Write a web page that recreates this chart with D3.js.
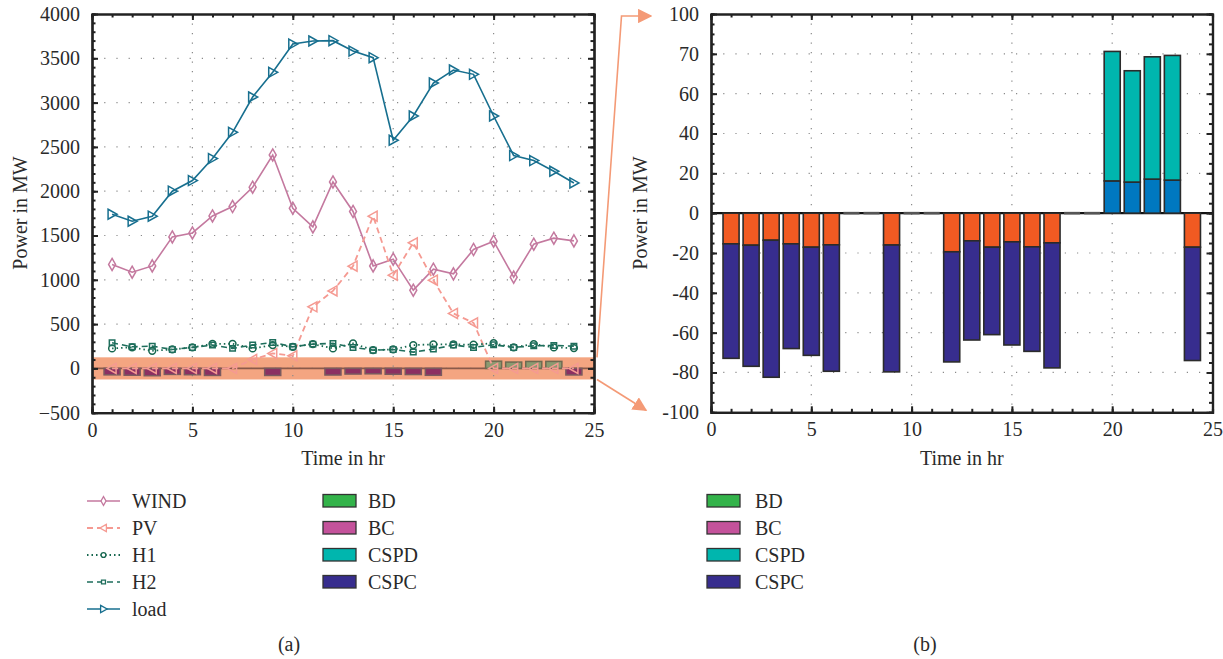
<!DOCTYPE html>
<html lang="en">
<head>
<meta charset="UTF-8">
<title>Power in MW</title>
<script src="https://cdn.jsdelivr.net/npm/d3@7"></script>
<style>
  body { margin: 0; background: #fff; }
  text { font-family: "Liberation Serif", "DejaVu Serif", serif; fill: #2a2a2a; }
</style>
</head>
<body>
<script>
// hours
var hours = [1, 2, 3, 4, 5, 6, 7, 8, 9, 10, 11, 12, 13, 14, 15, 16, 17, 18, 19, 20, 21, 22, 23, 24];

// (a) line series, MW
var wind = [1173, 1086, 1157, 1484, 1529, 1721, 1827, 2045, 2409, 1808, 1597, 2104, 1771, 1157, 1233, 883, 1120, 1067, 1342, 1436, 1030, 1402, 1470, 1439];
var pv = [0, 0, 0, 0, 0, 0, 0, 101, 169, 142, 695, 875, 1154, 1718, 1052, 1417, 996, 620, 514, 0, 0, 0, 0, 0];
var h1 = [226, 237, 199, 214, 237, 277, 277, 226, 263, 244, 274, 226, 282, 206, 214, 263, 271, 271, 267, 285, 237, 274, 237, 229];
var h2 = [289, 244, 251, 214, 237, 263, 226, 263, 293, 244, 274, 282, 237, 206, 214, 184, 218, 263, 237, 267, 237, 255, 259, 251];
var load = [1740, 1661, 1718, 2000, 2120, 2368, 2665, 3063, 3342, 3661, 3695, 3699, 3582, 3507, 2575, 2849, 3221, 3368, 3319, 2849, 2402, 2346, 2225, 2093];

// (b) stacked bar segments
var orangeSeg = [-15.4, -16.1, -13.6, -15.4, -17.1, -15.9, 0, 0, -16.0, 0, 0, -19.4, -13.9, -17.1, -14.4, -16.9, -14.9, 0, 0, 0, 0, 0, 0, -17.1];
var cspcSeg = [-57.5, -60.8, -68.8, -52.6, -54.3, -63.5, 0, 0, -63.7, 0, 0, -55.3, -49.8, -43.9, -51.8, -52.5, -62.8, 0, 0, 0, 0, 0, 0, -56.9];
var blueSeg = [0, 0, 0, 0, 0, 0, 0, 0, 0, 0, 0, 0, 0, 0, 0, 0, 0, 0, 0, 16.2, 15.6, 17.1, 16.6, 0];
var cspdSeg = [0, 0, 0, 0, 0, 0, 0, 0, 0, 0, 0, 0, 0, 0, 0, 0, 0, 0, 0, 65.0, 55.9, 61.4, 62.6, 0];

// ticks
var xTicks = [0, 5, 10, 15, 20, 25];
var yTicksA = [-500, 0, 500, 1000, 1500, 2000, 2500, 3000, 3500, 4000];
var yTicksB = [-100, -80, -60, -40, -20, 0, 20, 40, 60, 80, 100];
var yLabelsB = ["-100", "-80", "-60", "-40", "-20", "0", "20", "40", "60", "70", "100"];
var bandLimit = 125;

var width = 1223, height = 659;
var svg = d3.select("body").append("svg")
    .attr("width", width)
    .attr("height", height);

var xA = d3.scaleLinear().domain([0, 25]).range([92, 594]);
var yA = d3.scaleLinear().domain([-500, 4000]).range([412.7, 14]);
var xB = d3.scaleLinear().domain([0, 25]).range([711, 1212.5]);
var yB = d3.scaleLinear().domain([-100, 100]).range([412.3, 14]);

var fs = "20px";

function grid(g, x, y, yt) {
    var x0 = x.range()[0], x1 = x.range()[1], y0 = y.range()[0], y1 = y.range()[1];
    g.selectAll(".gx").data(xTicks.slice(1, -1)).enter().append("line")
        .attr("x1", function (d) { return x(d); }).attr("x2", function (d) { return x(d); })
        .attr("y1", y1).attr("y2", y0)
        .attr("stroke", "#8a8a8a").attr("stroke-width", 1.2).attr("stroke-dasharray", "1.2,8.3");
    g.selectAll(".gy").data(yt.slice(1, -1)).enter().append("line")
        .attr("y1", function (d) { return y(d); }).attr("y2", function (d) { return y(d); })
        .attr("x1", x0).attr("x2", x1)
        .attr("stroke", "#8a8a8a").attr("stroke-width", 1.2).attr("stroke-dasharray", "1.2,11");
}

function frame(g, x, y, yt, yMinorStep, yFmt) {
    var x0 = x.range()[0], x1 = x.range()[1], y0 = y.range()[0], y1 = y.range()[1];
    var yMinor = d3.range(y.domain()[0], y.domain()[1] + 0.001, yMinorStep);
    var xMinor = d3.range(0, 26, 1);

    function style(ax) {
        ax.select(".domain").attr("stroke", "#222").attr("stroke-width", 2.2);
        ax.selectAll(".tick line").attr("stroke", "#222").attr("stroke-width", 2);
        ax.selectAll("text").style("font-size", fs).style("font-family", "Liberation Serif").attr("fill", "#2a2a2a");
    }

    // minor ticks
    g.append("g").attr("transform", "translate(0," + y0 + ")")
        .call(d3.axisBottom(x).tickValues(xMinor).tickSize(-3.5).tickFormat("")).call(style);
    g.append("g").attr("transform", "translate(0," + y1 + ")")
        .call(d3.axisTop(x).tickValues(xMinor).tickSize(-3.5).tickFormat("")).call(style);
    g.append("g").attr("transform", "translate(" + x0 + ",0)")
        .call(d3.axisLeft(y).tickValues(yMinor).tickSize(-3.5).tickFormat("")).call(style);
    g.append("g").attr("transform", "translate(" + x1 + ",0)")
        .call(d3.axisRight(y).tickValues(yMinor).tickSize(-3.5).tickFormat("")).call(style);

    // major ticks
    g.append("g").attr("transform", "translate(0," + y0 + ")")
        .call(d3.axisBottom(x).tickValues(xTicks).tickSize(-6).tickSizeOuter(0).tickPadding(10)).call(style);
    g.append("g").attr("transform", "translate(0," + y1 + ")")
        .call(d3.axisTop(x).tickValues(xTicks).tickSize(-6).tickSizeOuter(0).tickFormat("")).call(style);
    g.append("g").attr("transform", "translate(" + x0 + ",0)")
        .call(d3.axisLeft(y).tickValues(yt).tickSize(-6).tickSizeOuter(0).tickPadding(12).tickFormat(yFmt)).call(style);
    g.append("g").attr("transform", "translate(" + x1 + ",0)")
        .call(d3.axisRight(y).tickValues(yt).tickSize(-6).tickSizeOuter(0).tickFormat("")).call(style);
}

function titles(g, x, y, tx) {
    g.append("text").attr("x", (x.range()[0] + x.range()[1]) / 2).attr("y", 465)
        .attr("text-anchor", "middle").style("font-size", fs).text("Time in hr");
    g.append("text").attr("transform", "translate(" + tx + "," + 213 + ") rotate(-90)")
        .attr("text-anchor", "middle").style("font-size", fs).text("Power in MW");
}

// ---------- (a) ----------
var gA = svg.append("g");

gA.append("rect")
    .attr("x", xA(0)).attr("width", xA(25) - xA(0))
    .attr("y", yA(bandLimit)).attr("height", yA(-bandLimit) - yA(bandLimit))
    .attr("fill", "#f4a581");

grid(gA, xA, yA, yTicksA);

gA.append("line")
    .attr("x1", xA(0)).attr("x2", xA(25))
    .attr("y1", yA(0)).attr("y2", yA(0))
    .attr("stroke", "#8a5a4a").attr("stroke-width", 1.6);

var totals = hours.map(function (h, i) {
    return { h: h, v: orangeSeg[i] + cspcSeg[i] + blueSeg[i] + cspdSeg[i] };
});

gA.selectAll(".sbar").data(totals.filter(function (d) { return d.v !== 0; })).enter().append("rect")
    .attr("x", function (d) { return xA(d.h - 0.4); })
    .attr("width", xA(0.8) - xA(0))
    .attr("y", function (d) { return yA(Math.max(0, d.v)); })
    .attr("height", function (d) { return Math.abs(yA(d.v) - yA(0)); })
    .attr("fill", function (d) { return d.v < 0 ? "#8c2f62" : "#8b9a70"; })
    .attr("stroke", function (d) { return d.v < 0 ? "#7a5a5f" : "#6e6b52"; })
    .attr("stroke-width", 1.5);

var triR = "M-4,-5 L5,0 L-4,5 Z";
var triL = "M4,-5 L-5,0 L4,5 Z";

var lineSeries = [
    { name: "load", values: load, color: "#176f8f", dash: null, width: 1.6, marker: triR },
    { name: "WIND", values: wind, color: "#c4799f", dash: null, width: 1.6, marker: d3.symbol().type(d3.symbolDiamond).size(42)() },
    { name: "PV", values: pv, color: "#f59a92", dash: "6,4", width: 1.8, marker: triL },
    { name: "H1", values: h1, color: "#16674f", dash: "1.5,3", width: 1.8, marker: d3.symbol().type(d3.symbolCircle).size(36)() },
    { name: "H2", values: h2, color: "#1e6e5c", dash: "6,4", width: 1.6, marker: d3.symbol().type(d3.symbolSquare).size(30)() }
];

var line = d3.line()
    .x(function (d) { return xA(d[0]); })
    .y(function (d) { return yA(d[1]); });

lineSeries.forEach(function (s) {
    var pts = hours.map(function (h, i) { return [h, s.values[i]]; });
    gA.append("path").datum(pts)
        .attr("d", line)
        .attr("fill", "none")
        .attr("stroke", s.color)
        .attr("stroke-width", s.width)
        .attr("stroke-dasharray", s.dash);
    gA.selectAll(".m" + s.name).data(pts).enter().append("path")
        .attr("d", s.marker)
        .attr("transform", function (d) { return "translate(" + xA(d[0]) + "," + yA(d[1]) + ")"; })
        .attr("fill", "none")
        .attr("stroke", s.color)
        .attr("stroke-width", 1.5);
});

frame(gA, xA, yA, yTicksA, 100, d3.format("d"));
titles(gA, xA, yA, 27);

// ---------- (b) ----------
var gB = svg.append("g");
grid(gB, xB, yB, yTicksB);

var table = hours.map(function (h, i) {
    return { h: h, orange: orangeSeg[i], cspc: cspcSeg[i], blue: blueSeg[i], cspd: cspdSeg[i] };
});
var keys = ["orange", "cspc", "blue", "cspd"];
var fills = { orange: "#f15a22", cspc: "#372d8e", blue: "#0078c0", cspd: "#00b6ae" };

var stack = d3.stack().keys(keys).offset(d3.stackOffsetDiverging);
var layers = stack(table);

gB.append("line")
    .attr("x1", xB(0)).attr("x2", xB(25))
    .attr("y1", yB(0)).attr("y2", yB(0))
    .attr("stroke", "#111").attr("stroke-width", 2.4);

layers.forEach(function (layer) {
    gB.selectAll(".b" + layer.key).data(layer.filter(function (d) { return d[1] !== d[0]; })).enter().append("rect")
        .attr("x", function (d) { return xB(d.data.h - 0.4); })
        .attr("width", xB(0.8) - xB(0))
        .attr("y", function (d) { return yB(Math.max(d[0], d[1])); })
        .attr("height", function (d) { return Math.abs(yB(d[0]) - yB(d[1])); })
        .attr("fill", fills[layer.key])
        .attr("stroke", "#2b2b2b")
        .attr("stroke-width", 1.6);
});

// empty hours: flat dashes on the zero line
gB.selectAll(".zero").data(table.filter(function (d) { return d.orange + d.cspc + d.blue + d.cspd === 0; })).enter().append("line")
    .attr("x1", function (d) { return xB(d.h - 0.4); })
    .attr("x2", function (d) { return xB(d.h + 0.4); })
    .attr("y1", yB(0)).attr("y2", yB(0))
    .attr("stroke", "#555").attr("stroke-width", 2.6);

frame(gB, xB, yB, yTicksB, 5, function (d) { return yLabelsB[yTicksB.indexOf(d)]; });
titles(gB, xB, yB, 647);

// ---------- zoom arrows ----------
var defs = svg.append("defs");
defs.append("marker").attr("id", "arr")
    .attr("viewBox", "0 0 10 10").attr("refX", 9).attr("refY", 5)
    .attr("markerWidth", 9).attr("markerHeight", 9).attr("orient", "auto")
    .append("path").attr("d", "M0,0 L10,5 L0,10 Z").attr("fill", "#f49a76");

svg.append("path")
    .attr("d", "M" + (xA(25) + 3) + "," + yA(bandLimit) + " L621.5,16 L" + (xB(0) - 60) + ",16")
    .attr("fill", "none").attr("stroke", "#f49a76").attr("stroke-width", 1.6)
    .attr("marker-end", "url(#arr)");
svg.append("path")
    .attr("d", "M" + (xA(25) + 3) + "," + yA(-bandLimit) + " L" + (xB(0) - 65) + "," + (yB(-100) - 2))
    .attr("fill", "none").attr("stroke", "#f49a76").attr("stroke-width", 1.6)
    .attr("marker-end", "url(#arr)");

// ---------- legends ----------
var rowY = [501, 528, 555, 582, 609];

lineSeries.slice(1).concat(lineSeries.slice(0, 1)).forEach(function (s, i) {
    var g = svg.append("g").attr("transform", "translate(0," + rowY[i] + ")");
    g.append("line").attr("x1", 87).attr("x2", 120).attr("y1", 0).attr("y2", 0)
        .attr("stroke", s.color).attr("stroke-width", s.width).attr("stroke-dasharray", s.dash);
    g.append("path").attr("d", s.marker).attr("transform", "translate(103.5,0) scale(0.72)")
        .attr("fill", "#fff").attr("stroke", s.color).attr("stroke-width", 1.8);
    g.append("text").attr("x", 132).attr("y", 7).style("font-size", fs).text(s.name);
});

var boxNames = ["BD", "BC", "CSPD", "CSPC"];
var boxColors = ["#33b34a", "#c4529b", "#00b6ae", "#372d8e"];

[[323, 368], [707, 755]].forEach(function (pos) {
    boxNames.forEach(function (n, i) {
        var g = svg.append("g").attr("transform", "translate(0," + rowY[i] + ")");
        g.append("rect").attr("x", pos[0]).attr("y", -6.5).attr("width", 33).attr("height", 12.5)
            .attr("fill", boxColors[i]).attr("stroke", "#333").attr("stroke-width", 1.3);
        g.append("text").attr("x", pos[1]).attr("y", 7).style("font-size", fs).text(n);
    });
});

svg.append("text").attr("x", 289).attr("y", 651).attr("text-anchor", "middle").style("font-size", fs).text("(a)");
svg.append("text").attr("x", 925).attr("y", 651).attr("text-anchor", "middle").style("font-size", fs).text("(b)");
</script>
</body>
</html>
